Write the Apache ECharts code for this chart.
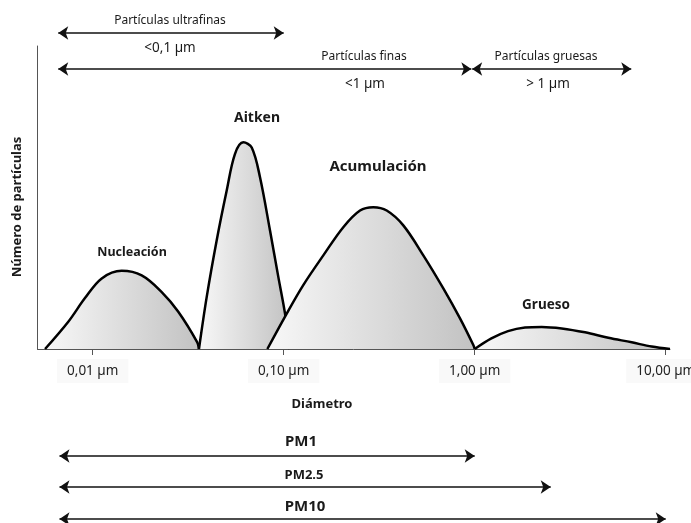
<!DOCTYPE html>
<html>
<head>
<meta charset="utf-8">
<script src="https://cdn.jsdelivr.net/npm/echarts@6/dist/echarts.min.js"></script>
<style>
html, body { margin: 0; padding: 0; background: #fff; }
#chart { width: 691px; height: 523px; }
</style>
</head>
<body>
<div id="chart"></div>
<script>
// diámetro en µm, número de partículas en escala relativa 0-100
const nucleacionD = [0.00563, 0.00745, 0.00911, 0.01115, 0.01418, 0.01805, 0.02298, 0.02806, 0.03528, 0.0360];
const nucleacionN = [0, 9.0, 16.8, 23.3, 25.8, 24.3, 18.8, 12.3, 2.2, 0];

const aitkenD = [0.0360, 0.03953, 0.04459, 0.0503, 0.05559, 0.06144, 0.068, 0.07514, 0.08478, 0.0937, 0.1016, 0.1075];
const aitkenN = [0, 17.2, 35.9, 52.3, 64.4, 68.2, 66.5, 56.7, 39.1, 23.8, 11.7, 0];

const acumulacionD = [0.0821, 0.1037, 0.1266, 0.1612, 0.2051, 0.2509, 0.2945, 0.3462, 0.4228, 0.5381, 0.6848, 0.8376, 0.9833, 1.0];
const acumulacionN = [0, 11.7, 21.1, 30.9, 40.2, 45.7, 46.8, 45.7, 40.8, 30.9, 20.0, 10.1, 1.3, 0];

const gruesoD = [1.0, 1.223, 1.494, 1.834, 2.243, 2.854, 3.78, 5.006, 6.637, 8.447, 10.53];
const gruesoN = [0, 3.5, 5.9, 7.1, 7.3, 6.8, 5.5, 3.7, 2.2, 0.8, 0];

const modeNames = ['Nucleación', 'Aitken', 'Acumulación', 'Grueso'];

// marcas del eje x
const tickValues = [0.01, 0.1, 1, 10];
const tickLabels = ['0,01 µm', '0,10 µm', '1,00 µm', '10,00 µm'];

// rangos de tamaño (flechas)
const rangeNames = ['ultrafinas', 'finas', 'gruesas', 'PM1', 'PM2.5', 'PM10'];
const rangeFrom = [0.0066, 0.0066, 0.97, 0.0067, 0.0067, 0.0067];
const rangeTo = [0.1, 0.96, 6.6, 1.0, 2.5, 10];

const X_MIN = 0.00514;
const X_MAX = 10.53;

const chart = echarts.init(document.getElementById('chart'));

const font = 'Noto Sans';
const ink = '#1a1a1a';

function label(x, y, text, size, bold, rotation) {
  return {
    type: 'text',
    x: x,
    y: y,
    rotation: rotation || 0,
    silent: true,
    style: {
      text: text,
      fill: ink,
      fontSize: size,
      fontWeight: bold ? 'bold' : 'normal',
      fontFamily: font,
      align: 'center',
      verticalAlign: 'middle'
    }
  };
}

const fill = new echarts.graphic.LinearGradient(0, 0, 1, 0, [
  { offset: 0, color: '#f8f8f8' },
  { offset: 1, color: '#c2c2c2' }
]);

const modes = [
  [nucleacionD, nucleacionN],
  [aitkenD, aitkenN],
  [acumulacionD, acumulacionN],
  [gruesoD, gruesoN]
];

// cada modo encima del anterior (Acumulación tapa la cola de Aitken)
const modeSeries = modes.map(function (m, k) {
  return {
    name: modeNames[k],
    type: 'line',
    xAxisIndex: 0,
    yAxisIndex: 0,
    z: 2 + k,
    data: m[0].map(function (d, i) { return [d, m[1][i]]; }),
    smooth: 0.35,
    symbol: 'none',
    silent: true,
    lineStyle: { color: '#000', width: 2.5 },
    areaStyle: { color: fill, opacity: 1 }
  };
});

// filas verticales de las flechas (px en la rejilla superpuesta)
const rangeRows = [33, 69, 69, 456, 487, 519];

const arrowSeries = {
  type: 'lines',
  coordinateSystem: 'cartesian2d',
  xAxisIndex: 1,
  yAxisIndex: 1,
  z: 10,
  silent: true,
  symbol: ['arrow', 'arrow'],
  symbolSize: 10,
  lineStyle: { color: '#111', width: 1.5, opacity: 1, curveness: 0 },
  data: rangeNames.map(function (n, i) {
    return { name: n, coords: [[rangeFrom[i], rangeRows[i]], [rangeTo[i], rangeRows[i]]] };
  })
};

const option = {
  animation: false,
  backgroundColor: '#fff',
  grid: [
    { left: 37.5, right: 21, top: 46, bottom: 174, outerBoundsMode: 'none' },
    { left: 37.5, right: 21, top: 0, bottom: 0, outerBoundsMode: 'none' }
  ],
  xAxis: [
    {
      type: 'log',
      logBase: 10,
      gridIndex: 0,
      min: X_MIN,
      max: X_MAX,
      axisLine: { show: true, lineStyle: { color: '#555', width: 1 } },
      axisTick: { show: true, length: 6, lineStyle: { color: '#555' }, customValues: tickValues },
      splitLine: { show: false },
      axisLabel: {
        customValues: tickValues,
        margin: 10,
        color: '#222',
        fontSize: 13.5,
        fontFamily: font,
        backgroundColor: '#f9f9f9',
        padding: [5, 10],
        formatter: function (v) {
          const i = tickValues.findIndex(function (t) { return Math.abs(Math.log10(t) - Math.log10(v)) < 0.01; });
          return i >= 0 ? tickLabels[i] : '';
        }
      }
    },
    {
      type: 'log',
      logBase: 10,
      gridIndex: 1,
      min: X_MIN,
      max: X_MAX,
      show: false
    }
  ],
  yAxis: [
    {
      type: 'value',
      gridIndex: 0,
      min: 0,
      max: 100,
      axisLine: { show: true, lineStyle: { color: '#555', width: 1 } },
      axisTick: { show: false },
      axisLabel: { show: false },
      splitLine: { show: false }
    },
    {
      type: 'value',
      gridIndex: 1,
      min: 0,
      max: 523,
      inverse: true,
      show: false
    }
  ],
  graphic: [
    label(170, 21, 'Partículas ultrafinas', 12, false),
    label(170, 48, '<0,1 µm', 13.5, false),
    label(364, 57, 'Partículas finas', 12, false),
    label(365, 84, '<1 µm', 13.5, false),
    label(546, 57, 'Partículas gruesas', 12, false),
    label(548, 84, '> 1 µm', 13.5, false),
    label(132, 252, modeNames[0], 12.5, true),
    label(257, 118, modeNames[1], 14, true),
    label(378, 167, modeNames[2], 15, true),
    label(546, 305, modeNames[3], 13.5, true),
    label(17, 207, 'Número de partículas', 13, true, Math.PI / 2),
    label(322, 404, 'Diámetro', 13, true),
    label(301, 442, 'PM1', 15, true),
    label(304, 475, 'PM2.5', 13, true),
    label(305, 507, 'PM10', 15, true)
  ],
  series: modeSeries.concat([arrowSeries])
};

chart.setOption(option);
</script>
</body>
</html>
